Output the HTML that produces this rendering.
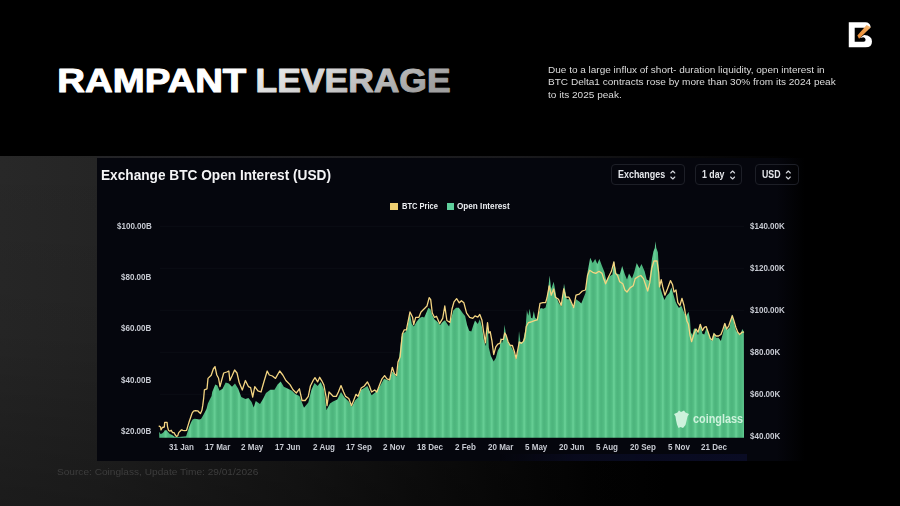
<!DOCTYPE html>
<html><head><meta charset="utf-8"><title>Rampant Leverage</title>
<style>
html,body{margin:0;padding:0;background:#000;}
body{width:900px;height:506px;overflow:hidden;position:relative;font-family:"Liberation Sans",sans-serif;}
.bg{position:absolute;left:0;top:156px;width:900px;height:350px;background:linear-gradient(to bottom,rgba(0,0,0,0) 0%,rgba(0,0,0,0.08) 50%,rgba(0,0,0,0.32) 100%),linear-gradient(to right,#282828 0%,#252525 11%,#191919 33%,#0c0c0c 52%,#030303 66%,#000 74%);}
.panel{position:absolute;left:97px;top:158px;width:708px;height:303px;background:linear-gradient(to right,#05060d 0%,#05060d 96%,#000 100%);}
.strip{position:absolute;left:97px;top:156px;width:700px;height:2px;background:linear-gradient(to right,#242427,#1a1a1d 60%,#000);}
.t{position:absolute;white-space:nowrap;transform-origin:0 0;}
.title{left:59.5px;top:64px;font-size:30px;line-height:34px;font-weight:bold;color:#fff;}
.para{left:547.6px;font-size:9.5px;line-height:13px;color:#dcdcdc;}
.ctitle{left:101px;top:166px;font-size:15px;line-height:18px;font-weight:bold;color:#f4f4f6;}
.ax{font-size:9.4px;line-height:10px;color:#c6c9d1;font-weight:bold;}
.lg{font-size:9px;line-height:10px;color:#eceef2;font-weight:bold;}
.dd{position:absolute;top:164px;height:21px;border:1px solid #1d1f27;border-radius:4px;box-sizing:border-box;}
.ddt{font-size:11px;line-height:12px;color:#e4e6ea;font-weight:bold;top:168.4px;}
.src{left:57px;top:466.5px;font-size:9px;line-height:11px;color:#3d3d3d;}
.chart{position:absolute;left:0;top:0;}
.wm{font-size:12px;line-height:14px;color:#cdf2dc;font-weight:bold;left:693px;top:412px;}
</style></head><body>
<div class="bg"></div>
<div class="strip"></div>
<div class="panel"></div>
<div style="position:absolute;left:500px;top:453.5px;width:247px;height:7px;background:linear-gradient(to right,rgba(13,15,42,0) 0%,rgba(10,12,34,0.75) 30%,#0a0c24 100%);filter:blur(0.7px);"></div>
<svg class="chart" width="900" height="506" viewBox="0 0 900 506"><defs><pattern id="st" x="-1.83" y="0" width="8.15" height="10" patternUnits="userSpaceOnUse"><rect x="0" y="0" width="8.15" height="10" fill="url(#sg)"/></pattern><linearGradient id="sg" x1="0" x2="1" y1="0" y2="0"><stop offset="0" stop-color="#4cb47c"/><stop offset="0.25" stop-color="#51ba81"/><stop offset="0.44" stop-color="#5ac48a"/><stop offset="0.55" stop-color="#70d69d"/><stop offset="0.66" stop-color="#5ac48a"/><stop offset="0.82" stop-color="#51ba81"/><stop offset="1" stop-color="#4cb47c"/></linearGradient><linearGradient id="lv" x1="0" x2="1" y1="0" y2="0"><stop offset="0" stop-color="#f2f2f2"/><stop offset="1" stop-color="#9c9c9c"/></linearGradient></defs><line x1="160" x2="744" y1="226.3" y2="226.3" stroke="#0b0d15" stroke-width="1"/><line x1="160" x2="744" y1="268.3" y2="268.3" stroke="#0b0d15" stroke-width="1"/><line x1="160" x2="744" y1="310.3" y2="310.3" stroke="#0b0d15" stroke-width="1"/><line x1="160" x2="744" y1="352.3" y2="352.3" stroke="#0b0d15" stroke-width="1"/><line x1="160" x2="744" y1="394.3" y2="394.3" stroke="#0b0d15" stroke-width="1"/><line x1="160" x2="744" y1="436.3" y2="436.3" stroke="#0b0d15" stroke-width="1"/><path d="M159.2,431.7 L160.6,434.0 L162.0,433.5 L163.8,432.1 L164.7,430.3 L166.6,430.3 L168.0,432.1 L169.9,434.0 L172.2,435.0 L174.5,436.8 L178.2,437.0 L182.0,436.8 L186.1,436.3 L187.5,432.1 L189.4,426.6 L191.2,421.9 L192.6,419.6 L194.5,418.7 L196.8,419.0 L199.1,419.6 L201.0,419.1 L202.8,415.9 L204.7,412.6 L206.5,408.9 L207.9,403.4 L209.8,399.6 L211.6,395.9 L212.2,391.9 L215.3,384.6 L217.4,385.6 L219.5,390.8 L222.6,388.8 L225.7,382.5 L228.8,383.6 L232.0,386.7 L235.0,383.6 L238.2,388.8 L241.3,397.0 L245.4,399.0 L248.5,398.0 L251.6,402.0 L253.7,407.4 L255.8,401.0 L260.0,404.0 L263.0,399.0 L266.0,393.0 L270.3,389.8 L274.5,389.8 L277.6,384.6 L280.7,381.5 L283.8,386.7 L288.0,388.8 L292.0,390.8 L295.2,394.0 L299.4,396.0 L301.0,400.0 L304.0,407.8 L308.3,402.6 L311.4,390.0 L314.5,383.0 L317.6,386.0 L320.7,381.9 L323.9,389.0 L326.5,410.0 L330.0,403.6 L333.0,401.6 L337.3,399.5 L341.0,392.0 L344.6,397.4 L348.8,401.6 L351.9,406.8 L355.0,400.5 L358.0,397.4 L361.0,390.0 L367.4,386.0 L371.6,395.3 L375.7,392.0 L380.0,386.0 L384.0,378.8 L389.0,380.8 L392.3,371.5 L396.5,376.7 L398.0,367.0 L401.4,337.6 L402.8,333.4 L405.5,332.0 L407.6,326.5 L409.7,312.7 L411.8,323.8 L413.8,326.5 L416.6,321.7 L419.4,318.2 L422.1,316.8 L424.2,317.5 L426.3,312.7 L428.4,307.8 L430.4,309.2 L432.5,315.4 L434.6,319.6 L437.4,321.7 L440.1,325.1 L442.9,321.7 L445.0,320.3 L447.1,323.8 L449.1,326.5 L451.2,318.2 L453.3,310.6 L456.1,307.8 L458.8,307.8 L460.9,310.6 L463.0,313.4 L465.1,316.1 L467.1,325.1 L469.2,330.7 L471.3,331.4 L473.4,325.1 L475.0,320.6 L477.8,324.0 L479.8,319.2 L481.9,326.8 L484.0,340.7 L486.0,346.2 L487.7,322.0 L488.8,347.6 L490.9,355.9 L493.7,361.4 L495.8,358.0 L497.8,350.4 L499.9,346.9 L500.6,337.2 L502.0,343.4 L503.4,337.9 L504.5,324.8 L506.1,335.8 L508.2,342.8 L511.0,346.2 L513.8,351.7 L516.1,359.4 L517.9,350.4 L519.0,331.0 L520.4,342.0 L522.8,342.0 L524.1,335.8 L525.5,329.6 L526.9,310.2 L528.3,315.8 L529.7,308.8 L531.0,317.8 L532.4,318.5 L533.8,310.9 L535.2,317.8 L537.3,319.2 L538.9,312.3 L540.7,308.1 L543.5,308.8 L545.6,307.5 L547.0,300.5 L549.6,275.5 L551.2,289.0 L553.7,281.7 L556.4,297.2 L559.0,303.5 L561.6,306.6 L564.0,283.8 L566.8,299.3 L570.0,299.3 L573.0,307.6 L576.0,299.3 L579.2,301.4 L581.3,303.5 L585.5,293.0 L587.5,272.3 L590.2,257.8 L592.7,263.0 L595.2,258.9 L597.3,264.0 L599.4,258.9 L602.0,266.0 L604.5,272.3 L606.2,280.6 L609.3,276.5 L612.4,274.4 L613.9,261.0 L616.6,273.4 L619.7,274.4 L622.2,266.0 L624.9,274.4 L627.0,279.6 L629.0,273.4 L632.0,278.6 L634.2,272.3 L636.7,263.0 L639.4,268.2 L641.5,264.0 L644.6,271.3 L646.7,279.6 L649.2,280.7 L650.6,269.6 L652.0,258.5 L653.4,251.6 L654.8,248.1 L655.4,241.2 L656.3,248.1 L657.9,252.3 L658.9,269.6 L659.3,282.0 L660.3,287.6 L662.4,294.5 L664.4,300.0 L666.5,295.9 L669.3,293.1 L671.4,287.6 L673.4,294.5 L675.5,301.4 L676.6,304.0 L679.0,308.0 L681.3,305.5 L683.7,311.6 L686.0,316.4 L688.5,311.8 L690.0,320.0 L690.8,332.2 L692.4,335.0 L694.0,328.4 L696.0,329.0 L698.0,335.3 L700.3,323.5 L702.4,333.8 L704.3,334.5 L706.6,327.4 L709.0,333.8 L711.4,340.9 L713.8,332.2 L716.0,337.7 L718.5,337.7 L720.9,340.9 L723.2,332.2 L725.0,322.7 L727.2,329.8 L729.6,327.4 L732.0,314.0 L734.0,322.7 L735.9,330.6 L738.3,333.8 L740.6,335.3 L742.2,329.0 L743.8,331.4 L744,437.8 L159.3,437.8 Z" fill="url(#st)"/><path d="M159.2,426.1 L160.6,427.0 L161.0,429.8 L162.4,427.5 L164.3,427.0 L164.7,422.4 L167.1,422.4 L167.5,426.6 L168.5,430.3 L169.9,431.2 L171.2,430.3 L172.6,432.6 L174.0,432.6 L175.0,434.5 L176.4,436.3 L177.7,435.9 L178.7,432.6 L180.1,431.2 L181.5,429.8 L182.9,430.3 L184.7,430.7 L186.6,430.3 L188.0,425.6 L189.4,421.0 L190.7,417.3 L192.1,413.1 L193.5,411.2 L195.4,410.6 L197.7,410.8 L199.1,412.2 L200.5,413.6 L201.9,410.3 L202.8,405.2 L203.7,397.8 L204.4,389.8 L207.0,388.8 L208.0,378.4 L211.2,375.3 L213.3,369.0 L215.0,366.6 L216.8,375.0 L218.5,378.0 L220.0,386.7 L221.6,380.5 L223.7,373.0 L226.8,372.0 L228.8,371.0 L229.9,380.5 L232.0,376.0 L234.6,370.0 L237.0,373.0 L239.2,382.5 L242.3,390.0 L245.4,380.5 L248.5,386.7 L250.6,387.7 L252.7,397.0 L254.8,386.7 L257.9,390.8 L261.0,392.0 L264.0,381.5 L267.2,371.0 L269.3,375.0 L272.4,376.0 L275.5,378.4 L279.7,371.0 L282.8,375.0 L285.9,380.5 L290.0,384.6 L293.0,389.8 L296.3,393.0 L299.4,388.8 L302.0,400.5 L305.2,400.5 L308.3,396.4 L310.4,386.0 L313.5,379.8 L315.0,377.7 L317.6,381.9 L319.7,377.3 L321.8,380.8 L323.9,385.0 L326.0,396.4 L327.0,405.7 L329.0,392.0 L331.0,394.0 L333.2,396.4 L336.3,396.4 L338.4,392.0 L341.0,385.6 L343.6,392.0 L345.6,396.4 L348.8,398.5 L351.5,405.7 L354.0,399.5 L356.0,394.3 L358.0,396.4 L361.2,388.0 L364.3,386.0 L367.4,381.9 L369.5,386.0 L371.6,392.0 L374.7,390.0 L376.8,392.0 L379.9,384.0 L382.0,378.8 L384.6,375.6 L387.0,378.8 L389.6,379.8 L392.3,367.3 L394.4,373.6 L396.5,375.6 L398.0,362.0 L400.2,356.8 L402.3,334.0 L404.3,329.8 L406.4,329.8 L408.5,319.4 L410.0,312.0 L412.6,317.3 L413.7,324.6 L415.7,317.3 L418.9,317.3 L421.0,312.0 L424.0,309.0 L427.0,306.0 L429.2,297.6 L430.7,299.7 L432.3,313.0 L434.4,317.3 L436.5,316.3 L439.6,323.6 L442.7,318.4 L444.8,306.0 L446.9,320.5 L450.0,322.5 L452.0,309.0 L454.0,301.8 L456.6,298.7 L459.3,302.8 L461.4,300.7 L463.9,302.8 L466.6,313.2 L469.7,317.3 L472.8,318.4 L475.0,315.8 L477.8,317.1 L479.8,314.4 L481.9,319.9 L483.3,329.6 L485.4,342.8 L487.5,322.7 L488.8,333.0 L490.2,331.7 L491.9,340.7 L493.7,354.5 L495.8,346.9 L497.8,344.1 L499.9,343.4 L501.3,339.3 L503.4,339.3 L504.8,333.0 L506.1,335.1 L508.2,342.0 L510.3,345.5 L512.4,345.5 L514.4,351.7 L516.1,358.7 L517.9,349.0 L519.3,342.0 L521.4,343.4 L523.4,341.4 L524.8,337.9 L526.2,326.8 L528.3,322.7 L531.0,322.0 L534.5,320.6 L537.3,319.9 L538.7,311.6 L540.0,303.3 L542.8,302.6 L545.6,302.6 L547.0,297.8 L549.2,285.8 L551.2,295.2 L553.7,289.0 L555.4,297.2 L558.5,299.3 L561.2,305.5 L563.7,289.0 L565.7,297.2 L568.9,297.2 L571.0,301.4 L573.6,307.6 L576.0,295.2 L579.2,294.1 L582.3,291.0 L585.5,290.0 L587.5,275.5 L589.6,270.3 L592.7,272.3 L595.8,273.4 L599.0,271.3 L602.0,273.4 L604.0,279.6 L605.6,283.8 L608.3,277.5 L611.4,271.3 L613.9,262.0 L615.5,273.4 L617.6,275.5 L619.7,281.7 L622.8,283.8 L624.9,290.0 L627.0,292.0 L630.0,287.9 L633.2,285.8 L635.2,278.6 L638.4,276.5 L640.8,275.5 L643.5,278.6 L645.6,284.8 L647.7,291.0 L649.8,282.7 L651.8,268.2 L653.9,261.0 L657.0,261.0 L658.7,272.3 L659.5,286.9 L661.2,279.6 L662.8,286.9 L664.9,295.2 L667.4,289.0 L670.5,280.6 L672.6,284.8 L674.0,292.0 L676.0,290.0 L677.8,302.4 L679.9,305.5 L682.0,298.3 L684.0,305.5 L685.3,313.2 L686.9,321.0 L688.5,324.3 L690.0,335.3 L691.6,341.7 L694.0,333.8 L696.0,329.0 L698.0,332.2 L700.3,324.3 L702.4,330.6 L704.3,327.4 L706.2,326.6 L708.2,332.2 L710.3,338.5 L712.2,340.0 L714.0,333.8 L716.0,336.0 L718.5,336.0 L720.9,334.5 L722.5,330.6 L724.8,323.5 L726.7,329.0 L728.8,325.8 L730.4,321.0 L732.3,315.6 L734.0,321.0 L735.9,327.4 L737.8,332.2 L739.8,334.5 L741.9,332.2 L743.5,332.2" fill="none" stroke="#f4d582" stroke-width="1.3" stroke-linejoin="round" stroke-linecap="round"/></svg>
<svg style="position:absolute;left:0;top:0" width="900" height="120" viewBox="0 0 900 120">
<defs><linearGradient id="lv2" x1="0" y1="0" x2="1" y2="0.35"><stop offset="0" stop-color="#f4f4f4"/><stop offset="0.5" stop-color="#cdcdcd"/><stop offset="1" stop-color="#a0a0a0"/></linearGradient></defs>
<text x="57.3" y="92.3" font-family="Liberation Sans, sans-serif" font-size="32.6" font-weight="bold" textLength="189" lengthAdjust="spacingAndGlyphs" fill="#fff" stroke="#fff" stroke-width="1" stroke-linejoin="round">RAMPANT</text>
<text x="255.6" y="92.3" font-family="Liberation Sans, sans-serif" font-size="32.6" font-weight="bold" textLength="195" lengthAdjust="spacingAndGlyphs" fill="url(#lv2)" stroke="url(#lv2)" stroke-width="1" stroke-linejoin="round">LEVERAGE</text>
</svg>
<div class="t para" id="p1" style="top:62.9px;transform:scaleX(1.0528);">Due to a large influx of short- duration liquidity, open interest in</div>
<div class="t para" id="p2" style="top:75.4px;transform:scaleX(1.0580);">BTC Delta1 contracts rose by more than 30% from its 2024 peak</div>
<div class="t para" id="p3" style="top:88px;transform:scaleX(1.0571);">to its 2025 peak.</div>
<div class="t ctitle" id="ct" style="transform:scaleX(0.9107);">Exchange BTC Open Interest (USD)</div>
<div class="t ax la" id="la0" style="top:220.5px;left:116px;transform:scaleX(0.8560);left:116.9px;">$100.00B</div>
<div class="t ax la" id="la1" style="top:271.9px;left:116px;transform:scaleX(0.8560);left:121.4px;">$80.00B</div>
<div class="t ax la" id="la2" style="top:323.3px;left:116px;transform:scaleX(0.8560);left:121.4px;">$60.00B</div>
<div class="t ax la" id="la3" style="top:374.6px;left:116px;transform:scaleX(0.8560);left:121.4px;">$40.00B</div>
<div class="t ax la" id="la4" style="top:426px;left:116px;transform:scaleX(0.8560);left:121.4px;">$20.00B</div>
<div class="t ax ra" id="ra0" style="top:220.5px;left:749.8px;transform:scaleX(0.8560);">$140.00K</div>
<div class="t ax ra" id="ra1" style="top:262.5px;left:749.8px;transform:scaleX(0.8560);">$120.00K</div>
<div class="t ax ra" id="ra2" style="top:304.5px;left:749.8px;transform:scaleX(0.8560);">$100.00K</div>
<div class="t ax ra" id="ra3" style="top:346.5px;left:749.8px;transform:scaleX(0.8560);">$80.00K</div>
<div class="t ax ra" id="ra4" style="top:388.5px;left:749.8px;transform:scaleX(0.8560);">$60.00K</div>
<div class="t ax ra" id="ra5" style="top:430.5px;left:749.8px;transform:scaleX(0.8560);">$40.00K</div>
<div class="t ax xa" id="xa0" style="top:441.7px;left:169.3px;transform:scaleX(0.8560);left:169.3px;">31 Jan</div>
<div class="t ax xa" id="xa1" style="top:441.7px;left:205.0px;transform:scaleX(0.8560);left:204.8px;">17 Mar</div>
<div class="t ax xa" id="xa2" style="top:441.7px;left:240.0px;transform:scaleX(0.8560);left:241.3px;">2 May</div>
<div class="t ax xa" id="xa3" style="top:441.7px;left:275.5px;transform:scaleX(0.8560);left:275.3px;">17 Jun</div>
<div class="t ax xa" id="xa4" style="top:441.7px;left:311.3px;transform:scaleX(0.8560);left:312.8px;">2 Aug</div>
<div class="t ax xa" id="xa5" style="top:441.7px;left:346.3px;transform:scaleX(0.8560);left:345.9px;">17 Sep</div>
<div class="t ax xa" id="xa6" style="top:441.7px;left:381.5px;transform:scaleX(0.8560);left:383.1px;">2 Nov</div>
<div class="t ax xa" id="xa7" style="top:441.7px;left:417.5px;transform:scaleX(0.8560);left:417.1px;">18 Dec</div>
<div class="t ax xa" id="xa8" style="top:441.7px;left:452.5px;transform:scaleX(0.8560);left:454.5px;">2 Feb</div>
<div class="t ax xa" id="xa9" style="top:441.7px;left:488.0px;transform:scaleX(0.8560);left:487.8px;">20 Mar</div>
<div class="t ax xa" id="xa10" style="top:441.7px;left:523.5px;transform:scaleX(0.8560);left:524.8px;">5 May</div>
<div class="t ax xa" id="xa11" style="top:441.7px;left:559.0px;transform:scaleX(0.8560);left:558.8px;">20 Jun</div>
<div class="t ax xa" id="xa12" style="top:441.7px;left:594.5px;transform:scaleX(0.8560);left:596.0px;">5 Aug</div>
<div class="t ax xa" id="xa13" style="top:441.7px;left:630.5px;transform:scaleX(0.8560);left:630.1px;">20 Sep</div>
<div class="t ax xa" id="xa14" style="top:441.7px;left:666.0px;transform:scaleX(0.8560);left:667.6px;">5 Nov</div>
<div class="t ax xa" id="xa15" style="top:441.7px;left:701.0px;transform:scaleX(0.8560);left:700.6px;">21 Dec</div>

<div style="position:absolute;left:390.4px;top:203.3px;width:7.2px;height:7.2px;background:#efd071;"></div>
<div class="t lg" id="lg1" style="left:401.6px;top:201.2px;transform:scaleX(0.8369);">BTC Price</div>
<div style="position:absolute;left:446.8px;top:203.3px;width:7px;height:7.2px;background:#5fcf9c;"></div>
<div class="t lg" id="lg2" style="left:457px;top:201.2px;transform:scaleX(0.9067);">Open Interest</div>
<div class="dd" style="left:611px;width:73.5px;"></div>
<div class="dd" style="left:695.4px;width:47px;"></div>
<div class="dd" style="left:755.3px;width:44px;"></div>
<div class="t ddt" id="dd1" style="left:617.6px;transform:scaleX(0.8125);">Exchanges</div>
<div class="t ddt" id="dd2" style="left:702.2px;transform:scaleX(0.7996);">1 day</div>
<div class="t ddt" id="dd3" style="left:761.9px;transform:scaleX(0.7962);">USD</div>
<svg style="position:absolute;left:0;top:0" width="900" height="506" viewBox="0 0 900 506">
<g fill="none" stroke="#d6d8de" stroke-width="1.1" stroke-linecap="round" stroke-linejoin="round">
<path d="M670.8,173 L672.8,171 L674.8,173 M670.8,177 L672.8,179 L674.8,177"/>
<path d="M730.6,173 L732.6,171 L734.6,173 M730.6,177 L732.6,179 L734.6,177"/>
<path d="M786.3,173 L788.3,171 L790.3,173 M786.3,177 L788.3,179 L790.3,177"/>
</g>
<!-- coinglass icon -->
<path d="M674,414 L677.5,412.5 L679,410.5 L681,412 L684,410.5 L685.5,412.5 L689,414 L687.5,416.5 L686.5,421 L685.5,425 L683,428 L680.5,427 L678.5,428 L677,424.5 L676,420 L675.5,416.5 Z" fill="#cdf2dc"/>
<defs><linearGradient id="og" x1="1" y1="0" x2="0" y2="1"><stop offset="0" stop-color="#f6c083"/><stop offset="0.5" stop-color="#ee9a45"/><stop offset="1" stop-color="#e98a35"/></linearGradient></defs>
<!-- logo -->
<g transform="translate(830,10) scale(0.0988)">
<path d="M190,125 H358 Q404,126 411,170 L400,184 L338,180 H250 V322 H340 Q362,320 360,298 Q358,282 338,276 L300,283 L345,254 Q425,260 425,318 Q425,378 360,378 H190 Z" fill="#fff"/>
<path d="M371,153 L414,174 L294,290 L277,258 Z" fill="url(#og)"/>
</g>
</svg>
<div class="t wm" id="wm" style="transform:scaleX(0.9032);">coinglass</div>
<div class="t src" id="src" style="transform:scaleX(1.1239);">Source: Coinglass, Update Time: 29/01/2026</div>
</body></html>
